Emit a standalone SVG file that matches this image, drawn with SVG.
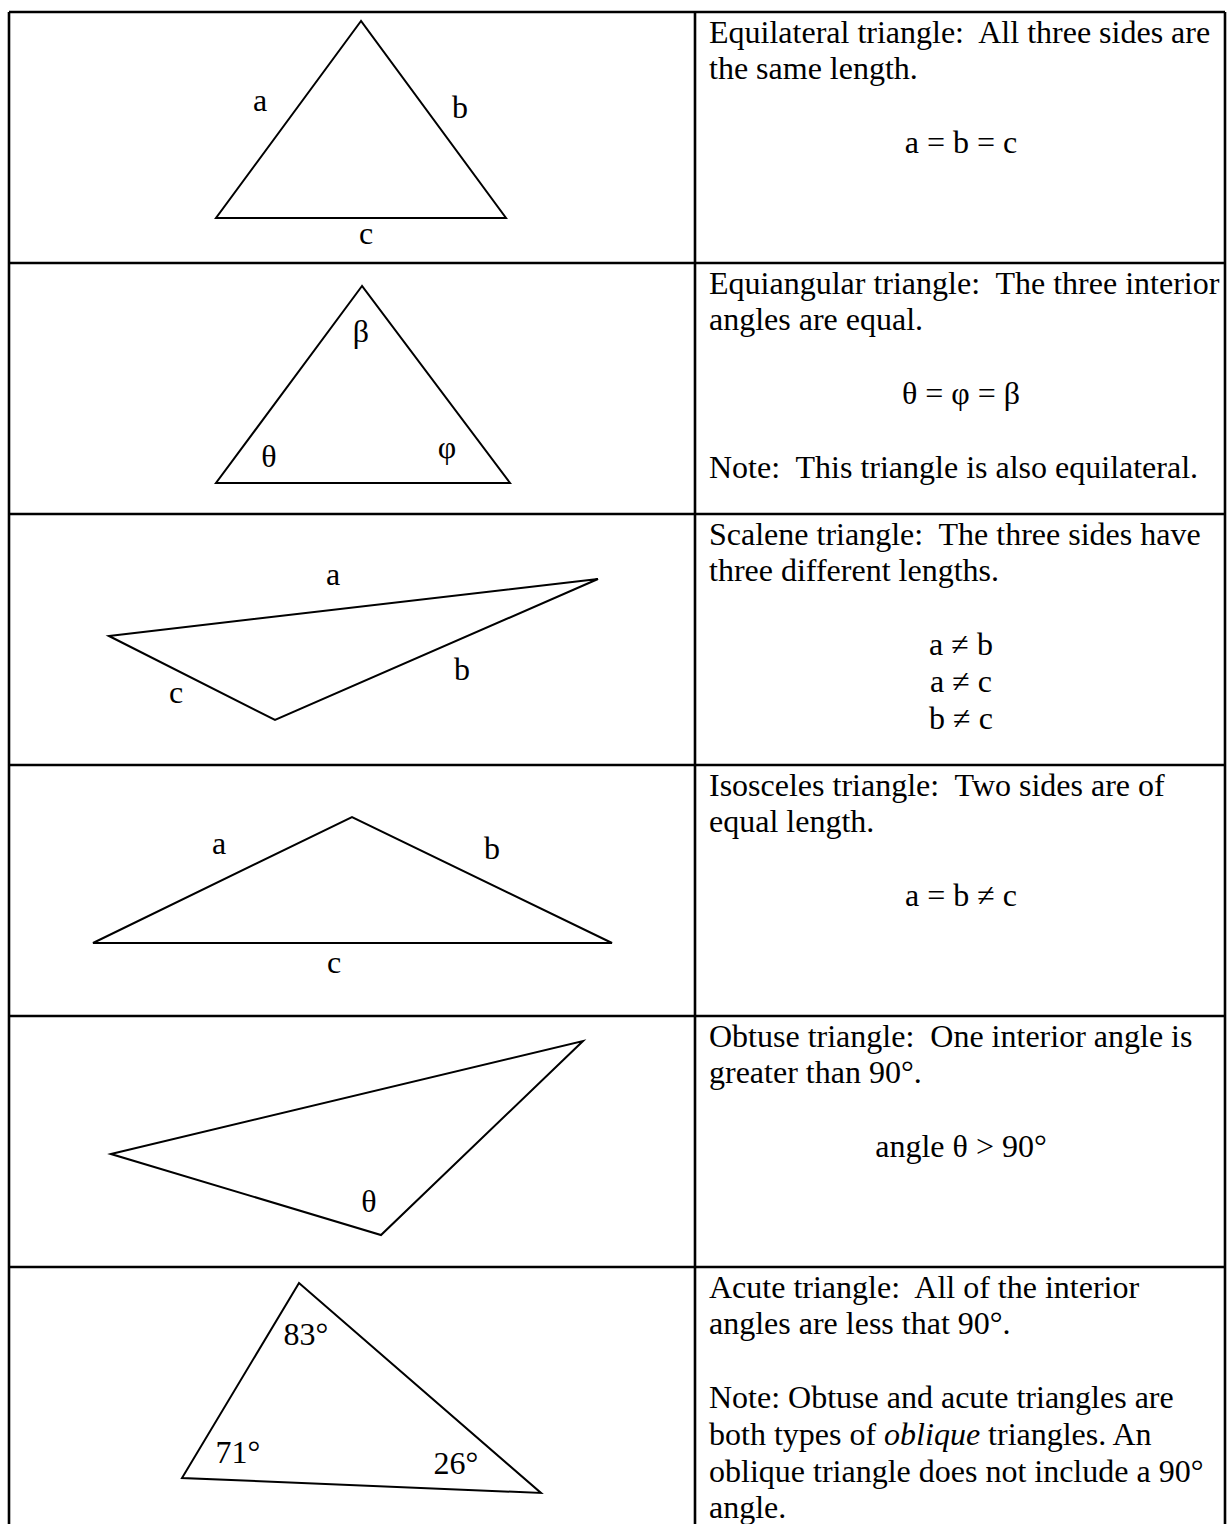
<svg xmlns="http://www.w3.org/2000/svg" width="1228" height="1524" viewBox="0 0 1228 1524">
<style>
text { font-family: "Liberation Serif", "Times New Roman", serif; font-size: 32px; fill: #000; white-space: pre; }
.c { text-anchor: middle; }
.grid { stroke: #000; stroke-width: 2.6; fill: none; }
.tri { stroke: #000; stroke-width: 2; fill: none; stroke-linejoin: miter; }
</style>
<rect width="1228" height="1524" fill="#fff"/>
<g id="table">
  <path class="grid" d="M9 12 H1225 M9 263 H1225 M9 514 H1225 M9 765 H1225 M9 1016 H1225 M9 1267 H1225 M9 12 V1524 M695 12 V1524 M1225 12 V1524"/>
</g>
<g id="row1">
  <polygon class="tri" points="361,21 216,218 506,218"/>
  <text class="c" x="260" y="111">a</text>
  <text class="c" x="460" y="118">b</text>
  <text class="c" x="366" y="244">c</text>
  <text x="709" y="42.5">Equilateral triangle:  All three sides are</text>
  <text x="709" y="79.3">the same length.</text>
  <text class="c" x="961" y="152.9">a = b = c</text>
</g>
<g id="row2">
  <polygon class="tri" points="362,286 216,483 510,483"/>
  <text class="c" x="361" y="342">β</text>
  <text class="c" x="269" y="467">θ</text>
  <text class="c" x="447" y="458">φ</text>
  <text x="709" y="293.5">Equiangular triangle:  The three interior</text>
  <text x="709" y="330.3">angles are equal.</text>
  <text class="c" x="961" y="403.9">θ = φ = β</text>
  <text x="709" y="477.5">Note:  This triangle is also equilateral.</text>
</g>
<g id="row3">
  <polygon class="tri" points="109,636 598,579 275,720"/>
  <text class="c" x="333" y="585">a</text>
  <text class="c" x="462" y="680">b</text>
  <text class="c" x="176" y="703">c</text>
  <text x="709" y="544.5">Scalene triangle:  The three sides have</text>
  <text x="709" y="581.3">three different lengths.</text>
  <text class="c" x="961" y="654.9">a ≠ b</text>
  <text class="c" x="961" y="691.7">a ≠ c</text>
  <text class="c" x="961" y="728.5">b ≠ c</text>
</g>
<g id="row4">
  <polygon class="tri" points="93,943 352,817 612,943"/>
  <text class="c" x="219" y="854">a</text>
  <text class="c" x="492" y="859">b</text>
  <text class="c" x="334" y="973">c</text>
  <text x="709" y="795.5">Isosceles triangle:  Two sides are of</text>
  <text x="709" y="832.3">equal length.</text>
  <text class="c" x="961" y="905.9">a = b ≠ c</text>
</g>
<g id="row5">
  <polygon class="tri" points="111,1154 583,1041 381,1235"/>
  <text class="c" x="369" y="1212">θ</text>
  <text x="709" y="1046.5">Obtuse triangle:  One interior angle is</text>
  <text x="709" y="1083.3">greater than 90°.</text>
  <text class="c" x="961" y="1156.9">angle θ &gt; 90°</text>
</g>
<g id="row6">
  <polygon class="tri" points="299,1283 182,1478 541,1493"/>
  <text class="c" x="306" y="1345">83°</text>
  <text class="c" x="238" y="1463">71°</text>
  <text class="c" x="456" y="1474">26°</text>
  <text x="709" y="1297.5">Acute triangle:  All of the interior</text>
  <text x="709" y="1334.3">angles are less that 90°.</text>
  <text x="709" y="1407.9">Note: Obtuse and acute triangles are</text>
  <text x="709" y="1444.7">both types of <tspan font-style="italic">oblique</tspan> triangles. An</text>
  <text x="709" y="1481.5">oblique triangle does not include a 90°</text>
  <text x="709" y="1518.3">angle.</text>
</g>
</svg>
